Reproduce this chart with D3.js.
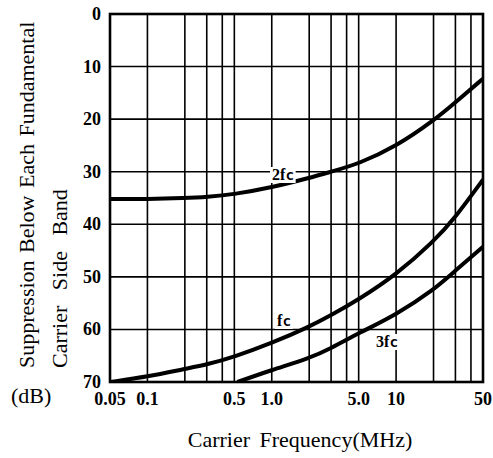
<!DOCTYPE html>
<html>
<head>
<meta charset="utf-8">
<script src="https://cdn.jsdelivr.net/npm/d3@7"></script>
<style>
  body { margin: 0; background: #fff; }
</style>
</head>
<body>
<script>
// frequency grid (MHz) and labelled ticks
const gridFreqs = [0.05, 0.1, 0.2, 0.3, 0.4, 0.5, 1, 2, 3, 4, 5, 10, 20, 30, 40, 50]
const xTickVals = [0.05, 0.1, 0.5, 1, 5, 10, 50]
const xTickText = ['0.05', '0.1', '0.5', '1.0', '5.0', '10', '50']
const yTickVals = [0, 10, 20, 30, 40, 50, 60, 70]

// curves: [MHz, dB]
const fc = [[0.05, 70], [0.1, 69.0], [0.2, 67.5], [0.3, 66.7], [0.5, 65.2], [1, 62.6], [2, 59.5],
  [3, 57.3], [5, 54.3], [10, 49.6], [20, 43.3], [30, 38.7], [50, 31.5]]
const fc2 = [[0.05, 35.2], [0.1, 35.2], [0.2, 35.0], [0.3, 34.8], [0.5, 34.3], [1, 33.0],
  [2, 31.2], [3, 30.0], [5, 28.5], [10, 25.2], [20, 20.3], [30, 16.8], [50, 12.3]]
const fc3 = [[0.53, 70], [1, 67.7], [2, 65.5], [3, 63.6], [5, 60.7], [10, 57.2],
  [20, 52.5], [30, 48.8], [50, 44.3]]

const serif = "'Liberation Serif', 'Times New Roman', serif"

const m = { width: 493, height: 458 }

const svg = d3.select('body').append('svg')
    .attr('width', m.width)
    .attr('height', m.height)
    .style('font-family', serif)

const x = d3.scaleLog().domain([0.05, 50]).range([110, 483])
const y = d3.scaleLinear().domain([0, 70]).range([14, 382])

const g = svg.append('g')

// vertical grid
g.selectAll('.vg')
  .data(gridFreqs)
  .enter()
  .append('line')
    .attr('x1', d => x(d)).attr('x2', d => x(d))
    .attr('y1', y(0)).attr('y2', y(70))
    .attr('stroke', '#000').attr('stroke-width', 1.6)

// horizontal grid
g.selectAll('.hg')
  .data(yTickVals)
  .enter()
  .append('line')
    .attr('x1', x(0.05)).attr('x2', x(50))
    .attr('y1', d => y(d)).attr('y2', d => y(d))
    .attr('stroke', '#000').attr('stroke-width', 1.6)

// frame
g.append('rect')
  .attr('x', x(0.05)).attr('y', y(0))
  .attr('width', x(50) - x(0.05)).attr('height', y(70) - y(0))
  .attr('fill', 'none').attr('stroke', '#000').attr('stroke-width', 2.6)

// tick labels
svg.selectAll('.xt')
  .data(xTickVals)
  .enter()
  .append('text')
    .attr('x', d => x(d))
    .attr('y', 405)
    .attr('text-anchor', 'middle')
    .style('font-family', serif)
    .attr('font-size', '18px')
    .attr('font-weight', 'bold')
    .text((d, i) => xTickText[i])

svg.selectAll('.yt')
  .data(yTickVals)
  .enter()
  .append('text')
    .attr('x', 101)
    .attr('y', d => y(d) + 6)
    .attr('text-anchor', 'end')
    .style('font-family', serif)
    .attr('font-size', '18px')
    .attr('font-weight', 'bold')
    .text(d => d)

svg.append('text')
  .attr('x', 11).attr('y', 403)
  .style('font-family', serif)
  .attr('font-size', '22px')
  .text('(dB)')

// axis titles
svg.append('text')
  .attr('x', 300).attr('y', 447)
  .attr('text-anchor', 'middle')
  .style('font-family', serif)
  .attr('font-size', '22px')
  .attr('word-spacing', '4px')
  .text('Carrier Frequency(MHz)')

svg.append('text')
  .attr('transform', 'translate(34,368) rotate(-90)')
  .style('font-family', serif)
  .attr('font-size', '22px')
  .attr('word-spacing', '2px')
  .text('Suppression Below Each Fundamental')

svg.append('text')
  .attr('transform', 'translate(67,368) rotate(-90)')
  .style('font-family', serif)
  .attr('font-size', '22px')
  .attr('word-spacing', '10px')
  .text('Carrier Side Band')

// curves
const line = d3.line()
  .x(d => x(d[0]))
  .y(d => y(d[1]))
  .curve(d3.curveBasis)

const clip = svg.append('clipPath').attr('id', 'plot')
clip.append('rect')
  .attr('x', x(0.05)).attr('y', y(0))
  .attr('width', x(50) - x(0.05)).attr('height', y(70) - y(0))

g.selectAll('.curve')
  .data([fc, fc2, fc3])
  .enter()
  .append('path')
    .attr('d', line)
    .attr('fill', 'none')
    .attr('stroke', '#000')
    .attr('stroke-width', 4)
    .attr('clip-path', 'url(#plot)')

// curve labels with white patch behind
function curveLabel(lx, ly, pre) {
  const t = svg.append('text')
    .attr('x', lx).attr('y', ly)
    .style('font-family', serif)
    .attr('font-size', '16px')
    .attr('font-weight', 'bold')
  t.append('tspan').text(pre)
  t.append('tspan')
    .style('font-family', "'DejaVu Sans', sans-serif")
    .attr('font-size', '10px')
    .attr('dx', 1)
    .text('C')
  const b = t.node().getBBox()
  svg.insert('rect', function() { return t.node() })
    .attr('x', b.x - 2).attr('y', b.y + 1)
    .attr('width', b.width + 4).attr('height', b.height - 1)
    .attr('fill', '#fff')
}

curveLabel(272, 180, '2f')
curveLabel(277, 326, 'f')
curveLabel(376, 347, '3f')
</script>
</body>
</html>
